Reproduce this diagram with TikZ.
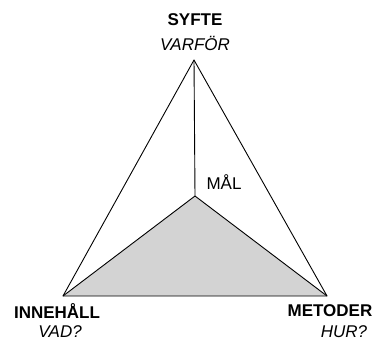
\documentclass[tikz,border=0pt]{standalone}
\usepackage{fontspec}
\setmainfont{Liberation Sans}
\definecolor{fillgray}{RGB}{211,211,211}
\begin{document}
\begin{tikzpicture}[x=1pt,y=-1pt,
  lbl/.style={font=\fontsize{17}{19}\selectfont, inner sep=0pt, align=center},
  edge/.style={draw=black, line width=0.9pt, line join=round}]
\useasboundingbox (0,0) rectangle (379,340);
\coordinate (A) at (194,60);
\coordinate (L) at (63,296);
\coordinate (R) at (327,296);
\coordinate (C) at (195,196);
\fill[fillgray] (C) -- (L) -- (R) -- cycle;
\draw[edge] (A) -- (L) -- (R) -- cycle;
\draw[edge] (C) -- (L);
\draw[edge] (C) -- (R);
\draw[edge] (A) -- (C);
\node[lbl] (syfte) at (195,20) {\textbf{SYFTE}};
\node[lbl] (varfor) at (195,43) {\textit{VARFÖR}};
\node[lbl] (innehall) at (57,311) {\textbf{INNEHÅLL}};
\node[lbl] (vad) at (60,332) {\textit{VAD?}};
\node[lbl] (metoder) at (330,311) {\textbf{METODER}};
\node[lbl] (hur) at (344,332) {\textit{HUR?}};
\node[lbl] (mal) at (224,182) {MÅL};
\end{tikzpicture}
\end{document}
